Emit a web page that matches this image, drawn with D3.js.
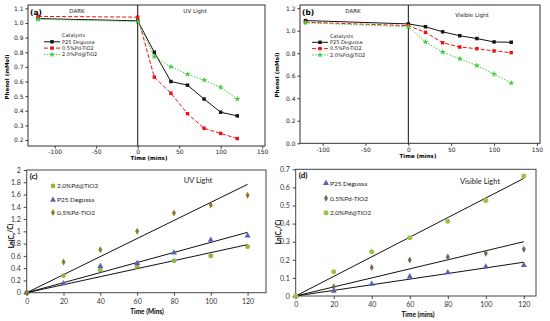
<!DOCTYPE html>
<html><head><meta charset="utf-8">
<script src="https://cdn.jsdelivr.net/npm/d3@7"></script>
<style>body{margin:0;background:#fff}svg{display:block}</style>
</head><body>
<svg id="c" width="550" height="321"></svg>
<script>
// ---------- data ----------
const timeAB = [-120, 0, 20, 40, 60, 80, 100, 120];
const aP25  = [1.03, 1.015, 0.80, 0.60, 0.575, 0.48, 0.39, 0.365];
const aPd05 = [1.045, 1.04, 0.63, 0.52, 0.38, 0.28, 0.245, 0.21];
const aPd20 = [1.025, 1.01, 0.77, 0.70, 0.65, 0.61, 0.56, 0.48];

const bP25  = [1.09, 1.06, 1.035, 0.99, 0.955, 0.93, 0.90, 0.897];
const bPd05 = [1.075, 1.045, 0.985, 0.893, 0.855, 0.84, 0.82, 0.805];
const bPd20 = [1.07, 1.035, 0.90, 0.81, 0.75, 0.69, 0.615, 0.535];

const timeCD = [0, 20, 40, 60, 80, 100, 120];
const cPd20 = [0, 0.28, 0.37, 0.43, 0.52, 0.60, 0.75];
const cP25  = [0, 0.15, 0.43, 0.48, 0.65, 0.86, 0.93];
const cPd05 = [0, 0.50, 0.70, 1.00, 1.30, 1.43, 1.59];

const dP25  = [0, 0.027, 0.066, 0.107, 0.13, 0.162, 0.17];
const dPd05 = [0, 0.051, 0.157, 0.199, 0.215, 0.236, 0.258];
const dPd20 = [0, 0.134, 0.245, 0.322, 0.413, 0.527, 0.663];

const namesAB = ["P25 Degussa", "0.5%Pd-TiO2", "2.0%Pd@TiO2"];
const ticksAx = [-100, -50, 0, 50, 100, 150];
const ticksAy = [0.2, 0.3, 0.4, 0.5, 0.6, 0.7, 0.8, 0.9, 1.0, 1.1];
const ticksBy = [0.0, 0.2, 0.4, 0.6, 0.8, 1.0, 1.2];
const ticksCx = [0, 20, 40, 60, 80, 100, 120];
const ticksCy = [0, 0.2, 0.4, 0.6, 0.8, 1, 1.2, 1.4, 1.6, 1.8, 2];
const ticksDy = [0, 0.1, 0.2, 0.3, 0.4, 0.5, 0.6, 0.7];

const svg = d3.select("#c");
const FAB = "DejaVu Sans, Verdana, sans-serif";
const FCD = "Lato, 'Open Sans', sans-serif";

// ---------- panels a & b ----------
function panelAB(o) {
  const x = d3.scaleLinear().domain(o.xd).range([o.x0, o.x1]);
  const y = d3.scaleLinear().domain(o.yd).range([o.y1, o.y0]);
  const g = svg.append("g");
  g.append("rect").attr("x", o.x0).attr("y", o.y0).attr("width", o.x1 - o.x0).attr("height", o.y1 - o.y0)
    .attr("fill", "none").attr("stroke", "#333").attr("stroke-width", 1);
  const ax = g.append("g").attr("transform", `translate(0,${o.y1})`)
    .call(d3.axisBottom(x).tickValues(ticksAx).tickSize(2.5).tickPadding(1.5).tickFormat(d3.format("d")));
  const ay = g.append("g").attr("transform", `translate(${o.x0},0)`)
    .call(d3.axisLeft(y).tickValues(o.yt).tickSize(2.5).tickPadding(2).tickFormat(d3.format(".1f")));
  [ax, ay].forEach(a => {
    a.select(".domain").remove();
    a.selectAll("line").attr("stroke", "#333");
    a.selectAll("text").attr("font-family", FAB).attr("font-size", 6).attr("fill", "#222");
  });
  ax.selectAll("text").text(d => d < 0 ? "-" + Math.abs(d) : d);
  // vertical line at t=0
  g.append("line").attr("x1", x(0)).attr("x2", x(0)).attr("y1", o.y0).attr("y2", o.y1)
    .attr("stroke", "#111").attr("stroke-width", 1);
  const styles = [
    { c: "#111", dash: null, m: "sq" },
    { c: "#ee1111", dash: "4,2", m: "sq" },
    { c: "#44cc44", dash: "1.5,1.5", m: "st" }
  ];
  const symOf = st => d3.symbol(st.m === "sq" ? d3.symbolSquare : d3.symbolStar, st.m === "sq" ? 12 : 12)();
  const line = d3.line().x((d, i) => x(timeAB[i])).y(d => y(d));
  o.series.forEach((s, k) => {
    const st = styles[k];
    g.append("path").attr("d", line(s)).attr("fill", "none").attr("stroke", st.c)
      .attr("stroke-width", 1).attr("stroke-dasharray", st.dash);
    s.forEach((v, i) => {
      g.append("path").attr("d", symOf(st))
        .attr("transform", `translate(${x(timeAB[i])},${y(v)})`).attr("fill", st.c);
    });
  });
  // legend
  g.append("text").attr("x", o.lx + 18).attr("y", o.ly).attr("dy", "0.35em")
    .attr("font-family", FAB).attr("font-size", 5).attr("fill", "#222").text("Catalysts");
  namesAB.forEach((n, k) => {
    const st = styles[k];
    const yy = o.ly + 6.3 * (k + 1);
    g.append("line").attr("x1", o.lx).attr("x2", o.lx + 16).attr("y1", yy).attr("y2", yy)
      .attr("stroke", st.c).attr("stroke-width", 1).attr("stroke-dasharray", st.dash);
    g.append("path").attr("d", symOf(st))
      .attr("transform", `translate(${o.lx + 8},${yy})`).attr("fill", st.c);
    g.append("text").attr("x", o.lx + 18).attr("y", yy).attr("dy", "0.35em")
      .attr("font-family", FAB).attr("font-size", 5).attr("fill", "#222").text(n);
  });
  g.append("text").attr("x", o.x0 + 2).attr("y", o.y0 + 7).attr("dy", "0.35em")
    .attr("font-family", FAB).attr("font-size", 7.5).attr("font-weight", "bold").text(o.tag);
  g.append("text").attr("x", o.darkX).attr("y", o.y0 + 6).attr("dy", "0.35em").attr("text-anchor", "middle")
    .attr("font-family", FAB).attr("font-size", 5.5).attr("fill", "#222").text("DARK");
  g.append("text").attr("x", o.lightX).attr("y", o.lightY).attr("dy", "0.35em").attr("text-anchor", "middle")
    .attr("font-family", FAB).attr("font-size", 5.5).attr("fill", "#222").text(o.light);
  g.append("text").attr("transform", `translate(${o.ylx},${o.yly}) rotate(-90)`).attr("text-anchor", "middle")
    .attr("dy", "0.35em").attr("font-family", FAB).attr("font-size", 5.5).attr("font-weight", "bold").text("Phenol (mMol)");
  g.append("text").attr("x", o.xlx).attr("y", o.xly).attr("dy", "0.35em").attr("text-anchor", "middle")
    .attr("font-family", FAB).attr("font-size", 5.5).attr("font-weight", "bold").text("Time (mins)");
}

panelAB({ x0: 28, x1: 265, y0: 5, y1: 146, xd: [-132.2, 153.4], yd: [0.159, 1.123], yt: ticksAy,
  series: [aP25, aPd05, aPd20], lx: 44, ly: 35.5, tag: "(a)", darkX: 77, light: "UV Light",
  lightX: 195, lightY: 11.5, ylx: 7, yly: 77, xlx: 149, xly: 158.5 });
panelAB({ x0: 300, x1: 540, y0: 5, y1: 143.3, xd: [-126.4, 153.6], yd: [0, 1.228], yt: ticksBy,
  series: [bP25, bPd05, bPd20], lx: 312, ly: 36, tag: "(b)", darkX: 353, light: "Visible Light",
  lightX: 472, lightY: 15, ylx: 277, yly: 75, xlx: 418, xly: 156 });

// ---------- panels c & d ----------
function panelCD(o) {
  const x = d3.scaleLinear().domain(o.xd).range([o.x0, o.x1]);
  const y = d3.scaleLinear().domain(o.yd).range([o.y1, o.y0]);
  const g = svg.append("g");
  g.append("rect").attr("x", o.x0).attr("y", o.y0).attr("width", o.x1 - o.x0).attr("height", o.y1 - o.y0)
    .attr("fill", "none").attr("stroke", "#444").attr("stroke-width", 1);
  const ax = g.append("g").attr("transform", `translate(0,${o.y1})`)
    .call(d3.axisBottom(x).tickValues(ticksCx).tickSize(3).tickSizeOuter(0));
  const ay = g.append("g").attr("transform", `translate(${o.x0},0)`)
    .call(d3.axisLeft(y).tickValues(o.yt).tickSize(3).tickFormat(d => d3.format("~g")(d)));
  [ax, ay].forEach(a => {
    a.select(".domain").remove();
    a.selectAll("line").attr("stroke", "#444");
    a.selectAll("text").attr("font-family", FCD).attr("font-size", 7).attr("fill", "#333");
  });
  o.series.forEach(s => {
    const vals = s.v;
    let sxy = 0, sxx = 0;
    timeCD.forEach((t, i) => { sxy += t * vals[i]; sxx += t * t; });
    const k = sxy / sxx;
    g.append("line").attr("x1", x(0)).attr("y1", y(0)).attr("x2", x(120)).attr("y2", y(k * 120))
      .attr("stroke", "#111").attr("stroke-width", 1);
  });
  o.series.forEach(s => {
    s.v.forEach((v, i) => {
      g.append("path").attr("d", d3.symbol(s.sym, s.size)())
        .attr("transform", `translate(${x(timeCD[i])},${y(v)})`).attr("fill", s.c);
    });
  });
  o.legend.forEach((s, k) => {
    const yy = o.ly[k];
    g.append("path").attr("d", d3.symbol(s.sym, s.size)()).attr("transform", `translate(${o.lx},${yy})`).attr("fill", s.c);
    g.append("text").attr("x", o.lx + 4).attr("y", yy).attr("dy", "0.35em")
      .attr("font-family", FCD).attr("font-size", 6.5).attr("fill", "#222").text(s.n);
  });
  g.append("text").attr("x", o.x0 + 3).attr("y", o.y0 + 6).attr("dy", "0.35em")
    .attr("font-family", FCD).attr("font-size", 8).attr("font-weight", "bold").text(o.tag);
  g.append("text").attr("x", o.lightX).attr("y", o.lightY).attr("dy", "0.35em").attr("text-anchor", "middle")
    .attr("font-family", FCD).attr("font-size", 7.5).attr("fill", "#222").text(o.light);
  const yl = g.append("text").attr("transform", `translate(${o.ylx},${o.yly}) rotate(-90)`).attr("text-anchor", "middle")
    .attr("dy", "0.35em").attr("font-family", FCD).attr("font-size", 6.5).attr("font-weight", "bold");
  yl.append("tspan").text("Ln(C");
  yl.append("tspan").attr("font-size", 4.5).attr("dy", "0.25em").text("o");
  yl.append("tspan").attr("dy", "-0.25em").text("/C)");
  g.append("text").attr("x", o.xlx).attr("y", o.xly).attr("dy", "0.35em").attr("text-anchor", "middle")
    .attr("font-family", FCD).attr("font-size", 6.5).attr("font-weight", "bold").text(o.xl);
}

const cGreen = "#8fb63f", cBlue = "#5c5fb8", cOlive = "#8a7c24", cBrown = "#7d6553";
const sC = [
  { n: "2.0%Pd@TiO2", v: cPd20, c: cGreen, sym: d3.symbolCircle, size: 18 },
  { n: "P25 Degussa", v: cP25, c: cBlue, sym: d3.symbolTriangle, size: 16 },
  { n: "0.5%Pd-TiO2", v: cPd05, c: cOlive, sym: d3.symbolDiamond, size: 14 }
];
panelCD({ x0: 26.7, x1: 266, y0: 170, y1: 292.7, xd: [0, 130], yd: [0, 2], yt: ticksCy,
  series: sC, legend: sC, lx: 53, ly: [186, 200, 212.5], tag: "(c)", light: "UV Light",
  lightX: 198, lightY: 180, ylx: 11.5, yly: 236, xlx: 147, xly: 311.5, xl: "Time (Mins)" });

const sD = [
  { n: "P25 Degussa", v: dP25, c: cBlue, sym: d3.symbolTriangle, size: 16 },
  { n: "0.5%Pd-TiO2", v: dPd05, c: cBrown, sym: d3.symbolDiamond, size: 14 },
  { n: "2.0%Pd@TiO2", v: dPd20, c: "#9cc24a", sym: d3.symbolCircle, size: 20 }
];
panelCD({ x0: 295.7, x1: 536, y0: 169.3, y1: 296, xd: [0, 126.4], yd: [0, 0.7], yt: ticksDy,
  series: sD, legend: sD, lx: 326, ly: [183.3, 198.3, 212.7], tag: "(d)", light: "Visible Light",
  lightX: 480, lightY: 181.5, ylx: 279, yly: 232, xlx: 418, xly: 314.5, xl: "Time (mins)" });
</script>
</body></html>
